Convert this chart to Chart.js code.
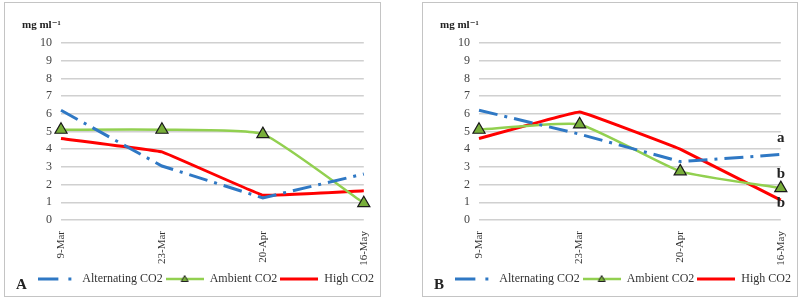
<!DOCTYPE html>
<html><head><meta charset="utf-8">
<script src="https://cdn.jsdelivr.net/npm/chart.js@4"></script>
<style>
html,body{margin:0;padding:0;background:#fff;width:800px;height:304px;overflow:hidden;}
.frame{position:absolute;top:2px;height:293px;border:1.5px solid #C4C4C4;}
.frame canvas{display:block;}
</style></head><body>
<div class="frame" id="fA" style="left:4px;width:375px;"><canvas id="cA" width="375" height="293"></canvas></div>
<div class="frame" id="fB" style="left:422px;width:374px;"><canvas id="cB" width="374" height="293"></canvas></div>
<script>
const categories = ['9-Mar','23-Mar','20-Apr','16-May'];
const seriesNames = ['Alternating CO2','Ambient CO2','High CO2'];
const yTicks = [0,1,2,3,4,5,6,7,8,9,10];
const alternatingA = [6.2, 3.05, 1.25, 2.6];
const ambientA     = [5.1, 5.1, 4.85, 0.95];
const highA        = [4.6, 3.85, 1.4, 1.65];
const alternatingB = [6.2, 4.85, 3.3, 3.7];
const ambientB     = [5.1, 5.4, 2.75, 1.8];
const highB        = [4.6, 6.1, 4.0, 1.12];
const lettersB     = [{t:'a', v:4.65},{t:'b', v:2.6},{t:'b', v:0.95}];
const unitLabel = 'mg ml\u207B\u00B9';

const BLUE='#2F78C4', GREEN='#92D050', RED='#FF0000', TRI='#78AE3A';
const DASH=[19,7,3,7];
const SERIF='"Liberation Serif", "DejaVu Serif", serif';

function sample(kind){
  const c=document.createElement('canvas'); c.width=38; c.height=10;
  const x=c.getContext('2d');
  x.lineWidth = kind==='alt'?3:(kind==='amb'?2.5:3);
  x.strokeStyle = kind==='alt'?BLUE:(kind==='amb'?GREEN:RED);
  if(kind==='alt'){ x.setLineDash([20,10,3,20]); }
  x.beginPath(); x.moveTo(0,5); x.lineTo(38,5); x.stroke();
  if(kind==='amb'){
    x.setLineDash([]); x.fillStyle=TRI; x.strokeStyle='#222'; x.lineWidth=1;
    x.beginPath(); x.moveTo(19,1.5); x.lineTo(22.5,7.5); x.lineTo(15.5,7.5); x.closePath(); x.fill(); x.stroke();
  }
  return c;
}
const samples=[sample('alt'),sample('amb'),sample('high')];

function makeChart(id, alt, amb, high, panel, letters){
  const overlay={
    id:'overlay',
    afterLayout(chart){
      const lg=chart.legend;
      if(lg){ lg.left+=7; lg.right+=7; lg.top+=2; lg.bottom+=2; }
    },
    afterDraw(chart){
      const ctx=chart.ctx, a=chart.chartArea;
      ctx.save();
      ctx.fillStyle='#222';
      ctx.font='bold 11px '+SERIF;
      ctx.textAlign='left'; ctx.textBaseline='middle';
      ctx.fillText(unitLabel, a.left-39, 22);
      ctx.font='bold 15px '+SERIF;
      ctx.fillText(panel, 11, 282);
      if(letters){
        const y=chart.scales.y;
        ctx.font='bold 15px '+SERIF; ctx.textAlign='center';
        letters.forEach(l=>ctx.fillText(l.t, a.right, y.getPixelForValue(l.v)));
      }
      ctx.restore();
    }
  };
  return new Chart(document.getElementById(id),{
    type:'line',
    data:{labels:categories,datasets:[
      {label:seriesNames[0],data:alt,borderColor:BLUE,borderWidth:3,borderDash:DASH,pointRadius:0,tension:0,fill:false},
      {label:seriesNames[1],data:amb,borderColor:GREEN,borderWidth:2.5,pointStyle:'triangle',pointRadius:7,pointBackgroundColor:TRI,pointBorderColor:'#1a1a1a',pointBorderWidth:1.2,tension:0.15,fill:false},
      {label:seriesNames[2],data:high,borderColor:RED,borderWidth:3,pointRadius:0,tension:0.05,fill:false}
    ]},
    options:{
      responsive:false,animation:false,
      layout:{padding:{top:40,right:10,left:0,bottom:3}},
      plugins:{
        tooltip:{enabled:false},
        legend:{position:'bottom',align:'end',
          labels:{usePointStyle:true,pointStyleWidth:38,boxHeight:10,padding:3,color:'#333',
            font:{family:SERIF,size:12},
            generateLabels(chart){
              return chart.data.datasets.map((d,i)=>({text:d.label,pointStyle:samples[i],fillStyle:'transparent',strokeStyle:'transparent',lineWidth:0,datasetIndex:i,fontColor:'#333'}));
            }}}
      },
      scales:{
        x:{offset:false,grid:{display:false},border:{display:false},
          ticks:{minRotation:90,maxRotation:90,color:'#333',font:{family:SERIF,size:11},padding:3},
          afterFit(s){s.height=48;}},
        y:{min:0,max:10,grid:{color:'#D0D0D0',lineWidth:1.5,drawTicks:false},border:{display:false},
          afterBuildTicks(s){s.ticks=yTicks.map(v=>({value:v}));},
          ticks:{color:'#444',font:{family:SERIF,size:12},padding:9},
          afterFit(s){s.width=56;}}
      }
    },
    plugins:[overlay]
  });
}
makeChart('cA',alternatingA,ambientA,highA,'A',null);
makeChart('cB',alternatingB,ambientB,highB,'B',lettersB);
</script></body></html>
